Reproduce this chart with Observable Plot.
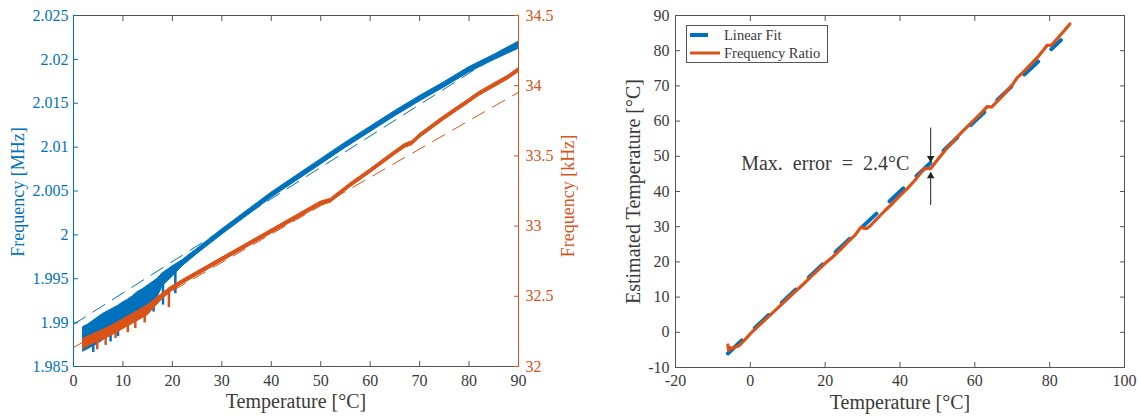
<!DOCTYPE html>
<html><head><meta charset="utf-8">
<script src="https://cdn.jsdelivr.net/npm/d3@7"></script>
<script src="https://cdn.jsdelivr.net/npm/@observablehq/plot@0.6"></script>
<style>
body{margin:0;background:#fff;}
#wrap{position:relative;width:1139px;height:420px;overflow:hidden;font-family:"Liberation Serif","Times New Roman",serif;}
#wrap svg{position:absolute;top:0;}
</style></head><body><div id="wrap"></div>
<script>
// ---------- LEFT PANEL DATA ----------
const tempTicks = [0,10,20,30,40,50,60,70,80,90];
const mhzTicks = [1.985,1.99,1.995,2,2.005,2.01,2.015,2.02,2.025];
const khzTicks = [32,32.5,33,33.5,34,34.5];

// blue: frequency [MHz] band (lower / upper envelope)
const blueT  = [2,3,4,5,6,7,8,9,10,11,12,13,14,15,16,17,18,19,20,22,25,30,35,40,45,50,55,60,65,70,75,80,85,90];
const blueHi = [1.9895,1.9898,1.9902,1.9906,1.9910,1.9913,1.9916,1.9919,1.9923,1.9926,1.9930,1.9935,1.9938,1.9942,1.9946,1.9950,1.9956,1.9960,1.9964,1.9971,1.9984,2.0006,2.0027,2.0048,2.0067,2.0086,2.0105,2.0123,2.0141,2.0158,2.0174,2.0191,2.0205,2.0220];
const blueLo = [1.9867,1.9870,1.9873,1.9876,1.9880,1.9884,1.9888,1.9892,1.9896,1.9900,1.9905,1.9910,1.9914,1.9920,1.9924,1.9929,1.9941,1.9947,1.9952,1.9964,1.9978,2.0000,2.0021,2.0042,2.0061,2.0080,2.0099,2.0117,2.0135,2.0152,2.0168,2.0185,2.0199,2.0212];
const blueSpikeT  = [4,7.5,9,12.5,16.2,18.1,20.6];
const blueSpikeLo = [1.9866,1.9878,1.9884,1.9902,1.9912,1.9920,1.9933];
const blueSpikeHi = [1.9890,1.9905,1.9912,1.9925,1.9940,1.9950,1.9962];
const blueFitT = [0,90];
const blueFitV = [1.9898,2.0220];

// orange: frequency [kHz] band
const orT  = [2,3,4,5,6,8,10,12,15,18,20,22,25,30,35,40,45,48,50,52,54,56,60,65,67,68.5,70,75,80,82,85,88,90];
const orHi = [32.195,32.215,32.23,32.245,32.26,32.295,32.335,32.375,32.435,32.52,32.572,32.614,32.674,32.774,32.874,32.974,33.074,33.134,33.174,33.194,33.249,33.304,33.404,33.534,33.584,33.604,33.654,33.784,33.904,33.954,34.014,34.074,34.124];
const orLo = [32.125,32.145,32.16,32.175,32.19,32.225,32.265,32.305,32.365,32.48,32.538,32.586,32.646,32.746,32.846,32.946,33.046,33.106,33.146,33.166,33.221,33.276,33.376,33.506,33.556,33.576,33.626,33.756,33.876,33.926,33.986,34.046,34.096];
const orSpikeT  = [4.8,6.5,8.5,11,12.5,14.4,19.3];
const orSpikeLo = [32.12,32.15,32.20,32.24,32.27,32.31,32.42];
const orSpikeHi = [32.24,32.27,32.31,32.36,32.39,32.43,32.56];
const orFitT = [0,90];
const orFitV = [32.135,33.953];

// ---------- RIGHT PANEL DATA ----------
const rxTicks = [-20,0,20,40,60,80,100];
const ryTicks = [-10,0,10,20,30,40,50,60,70,80,90];
const linFitT = [-6,83];
const linFitV = [-6,83];
const ratioT = [-6,-5.8,-5.5,-5,-4,-3,-2,-1,0,2,4,6,8,10,12,14,16,18,20,22,24,26,28,29.5,31,32,34,36,38,40,42,44,46.4,48.2,49.5,51,53.5,56,58,60,62,63.3,64.5,66,68,70,71.3,73,75,77,79.3,80.5,82,84,85.4];
const ratioV = [-3.6,-5.2,-4.3,-4.6,-4.2,-3.8,-2.7,-1.6,-0.4,1.6,3.6,5.6,7.6,9.6,11.6,13.5,15.6,17.6,19.6,21.4,23.4,25.6,27.6,29.8,29.4,30.2,32.4,34.6,36.6,38.8,40.9,43.2,46.5,46.5,48.3,50.3,53.5,56.3,58.4,60.5,62.6,64.1,64.0,65.6,67.9,70.3,72.3,74.0,76.2,78.4,81.5,81.6,83.4,85.8,87.6];
// annotation
const errLabel = ["Max.\u2002error\u2002=\u20022.4°C"];
const errLabelPos = {x: 42.5, y: 48};
const arrowDown = {x: 48.2, y1: 58, y2: 48.6};
const arrowUp   = {x: 48.2, y1: 36, y2: 45.2};
const legendItems = ["Linear Fit", "Frequency Ratio"];

// ---------- BUILD ----------
const BLUE = "#0072BD", ORANGE = "#D95319", AX = "#555", TXT = "#3a3a3a";
const FONT = "'Liberation Serif','Times New Roman',serif";
const wrap = document.getElementById("wrap");

const rows = (t, a, b) => t.map((d,i) => ({t:d, lo:a[i], hi:b[i]}));
const pts  = (t, v) => t.map((d,i) => ({t:d, v:v[i]}));

const baseL = {width: 570, height: 420, marginLeft: 73, marginRight: 52, marginTop: 15, marginBottom: 54,
  style: {fontFamily: FONT, fontSize: "16px", background: "transparent", overflow: "visible"}};

const leftPlot = Plot.plot({
  ...baseL,
  x: {domain: [0, 90]},
  y: {domain: [1.985, 2.025]},
  marks: [
    Plot.ruleY([2.025], {stroke: AX}),
    Plot.ruleY([1.985], {stroke: AX}),
    Plot.axisX(tempTicks, {anchor: "top", tickSize: -5, tickFormat: () => "", stroke: AX, label: null}),
    Plot.axisX(tempTicks, {anchor: "bottom", tickSize: -5, tickPadding: 13, stroke: AX, fill: TXT, label: null, fontSize: 16,
      tickFormat: d => String(d)}),
    Plot.axisY(mhzTicks, {anchor: "left", tickSize: -5, tickPadding: 10, color: BLUE, label: null, fontSize: 16,
      tickFormat: d => String(+d.toFixed(3))}),
    Plot.ruleX([0], {stroke: BLUE}),
    Plot.areaY(rows(blueT, blueLo, blueHi), {x: "t", y1: "lo", y2: "hi", fill: BLUE, stroke: BLUE, strokeWidth: 1}),
    Plot.ruleX(rows(blueSpikeT, blueSpikeLo, blueSpikeHi), {x: "t", y1: "lo", y2: "hi", stroke: BLUE, strokeWidth: 2.5}),
    Plot.line(pts(blueFitT, blueFitV), {x: "t", y: "v", stroke: BLUE, strokeWidth: 1, strokeDasharray: "14,9"}),
    Plot.text(["Frequency [MHz]"], {text: d => d, frameAnchor: "left", textAnchor: "middle", dx: -55, dy: 1, rotate: -90, fill: BLUE, fontSize: 18}),
    Plot.text(["Temperature [°C]"], {text: d => d, frameAnchor: "bottom", textAnchor: "middle", dy: 41, fill: TXT, fontSize: 20})
  ]
});
leftPlot.style.left = "0px";
wrap.appendChild(leftPlot);

const overPlot = Plot.plot({
  ...baseL,
  x: {domain: [0, 90], axis: null},
  y: {domain: [32, 34.5]},
  marks: [
    Plot.ruleX([90], {stroke: ORANGE}),
    Plot.axisY(khzTicks, {anchor: "right", tickSize: -5, tickPadding: 12, color: ORANGE, label: null, fontSize: 16,
      tickFormat: d => String(d)}),
    Plot.areaY(rows(orT, orLo, orHi), {x: "t", y1: "lo", y2: "hi", fill: ORANGE, stroke: ORANGE, strokeWidth: 1}),
    Plot.ruleX(rows(orSpikeT, orSpikeLo, orSpikeHi), {x: "t", y1: "lo", y2: "hi", stroke: ORANGE, strokeWidth: 2.5}),
    Plot.line(pts(orFitT, orFitV), {x: "t", y: "v", stroke: ORANGE, strokeWidth: 1, strokeDasharray: "14,9"}),
    Plot.text(["Frequency [kHz]"], {text: d => d, frameAnchor: "right", textAnchor: "middle", dx: 50, dy: 5, rotate: -90, fill: ORANGE, fontSize: 18})
  ]
});
overPlot.style.left = "0px";
wrap.appendChild(overPlot);

const rightPlot = Plot.plot({
  width: 569, height: 420, marginLeft: 105, marginRight: 15, marginTop: 15, marginBottom: 53,
  style: {fontFamily: FONT, fontSize: "16px", background: "transparent", overflow: "visible"},
  x: {domain: [-20, 100]},
  y: {domain: [-10, 90]},
  marks: [
    Plot.frame({stroke: AX}),
    Plot.axisX(rxTicks, {anchor: "top", tickSize: -5, tickFormat: () => "", stroke: AX, label: null}),
    Plot.axisX(rxTicks, {anchor: "bottom", tickSize: -5, tickPadding: 12, stroke: AX, fill: TXT, label: null, fontSize: 16,
      tickFormat: d => String(d)}),
    Plot.axisY(ryTicks, {anchor: "left", tickSize: -5, tickPadding: 11, stroke: AX, fill: TXT, label: null, fontSize: 16,
      tickFormat: d => String(d)}),
    Plot.axisY(ryTicks, {anchor: "right", tickSize: -5, tickFormat: () => "", stroke: AX, label: null}),
    Plot.line(pts(linFitT, linFitV), {x: "t", y: "v", stroke: BLUE, strokeWidth: 4, strokeDasharray: "19,18"}),
    Plot.line(pts(ratioT, ratioV), {x: "t", y: "v", stroke: ORANGE, strokeWidth: 3.2, strokeLinejoin: "round"}),
    Plot.ruleX([arrowDown], {x: "x", y1: "y1", y2: "y2", stroke: "#222", strokeWidth: 1}),
    Plot.ruleX([arrowUp], {x: "x", y1: "y1", y2: "y2", stroke: "#222", strokeWidth: 1}),
    Plot.dot([arrowDown], {x: "x", y: "y2", symbol: "triangle2", r: 3.6, fill: "#222", rotate: 180, dy: -3}),
    Plot.dot([arrowUp], {x: "x", y: "y2", symbol: "triangle2", r: 3.6, fill: "#222", dy: 3}),
    Plot.text(errLabel, {text: d => d, x: errLabelPos.x, y: errLabelPos.y, textAnchor: "end", fill: TXT, fontSize: 20}),
    Plot.text(["Estimated Temperature [°C]"], {text: d => d, frameAnchor: "left", textAnchor: "middle", dx: -42, rotate: -90, fill: TXT, fontSize: 20}),
    Plot.text(["Temperature [°C]"], {text: d => d, frameAnchor: "bottom", textAnchor: "middle", dy: 41, fill: TXT, fontSize: 20})
  ]
});
rightPlot.style.left = "570px";
wrap.appendChild(rightPlot);

// legend (inside right axes, top-left)
const ns = "http://www.w3.org/2000/svg";
const lg = document.createElementNS(ns, "svg");
lg.setAttribute("width", 146); lg.setAttribute("height", 42);
lg.style.left = "684px"; lg.style.top = "23px";
lg.innerHTML = `
  <rect x="2.5" y="2.5" width="141" height="37" fill="#fff" stroke="${AX}" stroke-width="1"/>
  <line x1="6" y1="12" x2="24" y2="12" stroke="${BLUE}" stroke-width="4"/>
  <line x1="6" y1="30" x2="36" y2="30" stroke="${ORANGE}" stroke-width="3"/>
  <text x="40" y="17" font-family="${FONT.replace(/'/g,'')}" font-size="14.5" fill="${TXT}">${legendItems[0]}</text>
  <text x="40" y="35" font-family="${FONT.replace(/'/g,'')}" font-size="14.5" fill="${TXT}">${legendItems[1]}</text>`;
wrap.appendChild(lg);
</script></body></html>
